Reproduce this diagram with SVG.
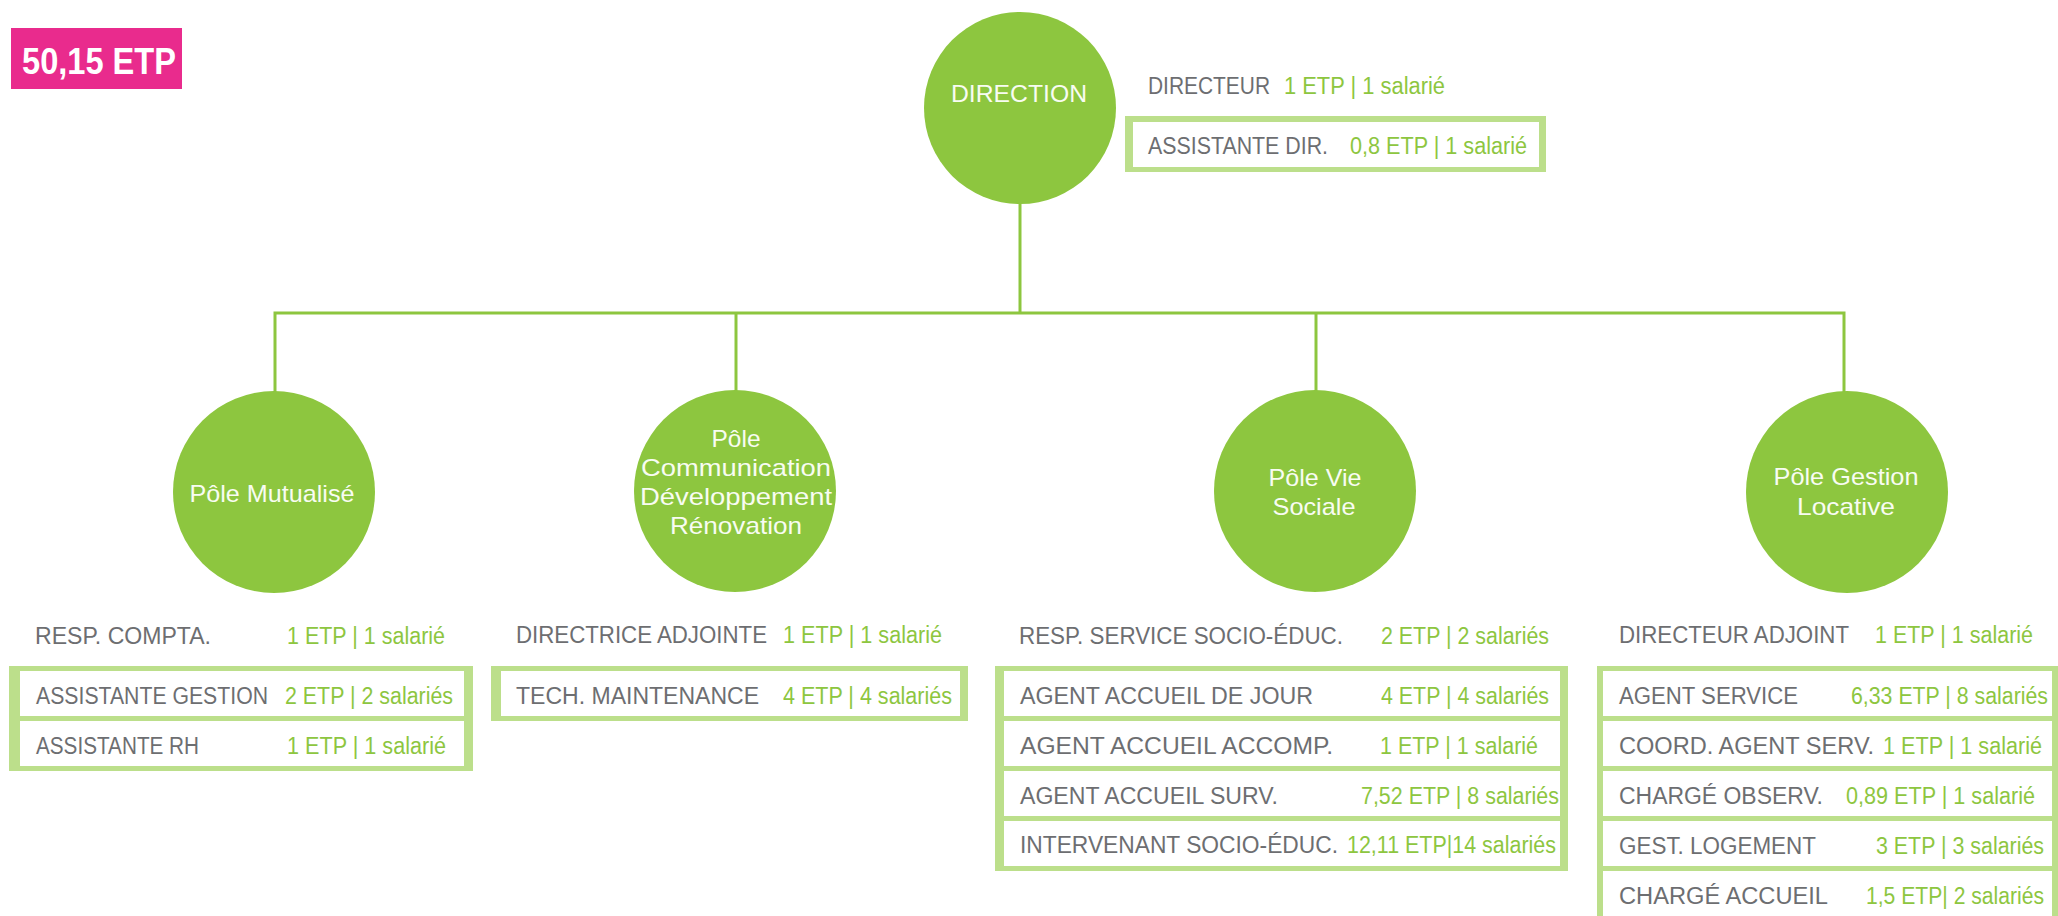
<svg xmlns="http://www.w3.org/2000/svg" width="2058" height="916" viewBox="0 0 2058 916">
<style>
  text { font-family: "Liberation Sans", Arial, sans-serif; }
  .lbl { font-size: 23px; fill: #6d6e71; }
  .val { font-size: 23px; fill: #8dc63f; }
  .circ { fill: #8dc63f; }
  .clbl { font-size: 24px; fill: #f8fcf2; text-anchor: middle; }
  .frame { fill: #bcdf8b; }
  .cell { fill: #ffffff; }
  .conn { stroke: #8dc63f; stroke-width: 3; fill: none; }
</style>
<rect width="2058" height="916" fill="#ffffff"/>

<g id="connectors">
  <line class="conn" x1="1020" y1="200" x2="1020" y2="313"/>
  <polyline class="conn" points="275,392 275,313 1844,313 1844,392"/>
  <line class="conn" x1="736" y1="313" x2="736" y2="392"/>
  <line class="conn" x1="1316" y1="313" x2="1316" y2="392"/>
</g>

<g id="total">
  <rect x="11" y="28" width="171" height="61" fill="#e92b8d"/>
  <text x="22" y="74" font-size="36" font-weight="bold" fill="#ffffff" textLength="154" lengthAdjust="spacingAndGlyphs">50,15 ETP</text>
</g>

<g id="direction">
  <circle class="circ" cx="1020" cy="108" r="96"/>
  <text class="clbl" x="1019" y="102" textLength="136" lengthAdjust="spacingAndGlyphs">DIRECTION</text>
</g>

<g id="direction-staff">
  <text class="lbl" x="1148" y="94" textLength="122" lengthAdjust="spacingAndGlyphs">DIRECTEUR</text>
  <text class="val" x="1284" y="94" textLength="161" lengthAdjust="spacingAndGlyphs">1 ETP | 1 salarié</text>
  <rect class="frame" x="1125" y="116" width="421" height="56"/>
  <rect class="cell" x="1133" y="122" width="406" height="45"/>
  <text class="lbl" x="1148" y="154" textLength="180" lengthAdjust="spacingAndGlyphs">ASSISTANTE DIR.</text>
  <text class="val" x="1350" y="154" textLength="177" lengthAdjust="spacingAndGlyphs">0,8 ETP | 1 salarié</text>
</g>

<g id="pole-mutualise">
  <circle class="circ" cx="274" cy="492" r="101"/>
  <text class="clbl" x="272" y="502" textLength="165" lengthAdjust="spacingAndGlyphs">Pôle Mutualisé</text>
</g>

<g id="pole-mutualise-staff">
  <text class="lbl" x="35" y="644" textLength="176" lengthAdjust="spacingAndGlyphs">RESP. COMPTA.</text>
  <text class="val" x="287" y="644" textLength="158" lengthAdjust="spacingAndGlyphs">1 ETP | 1 salarié</text>
  <rect class="frame" x="9" y="666" width="464" height="105"/>
  <rect class="cell" x="20" y="671" width="444" height="45"/>
  <rect class="cell" x="20" y="721" width="444" height="45"/>
  <text class="lbl" x="36" y="704" textLength="232" lengthAdjust="spacingAndGlyphs">ASSISTANTE GESTION</text>
  <text class="val" x="285" y="704" textLength="168" lengthAdjust="spacingAndGlyphs">2 ETP | 2 salariés</text>
  <text class="lbl" x="36" y="754" textLength="163" lengthAdjust="spacingAndGlyphs">ASSISTANTE RH</text>
  <text class="val" x="287" y="754" textLength="159" lengthAdjust="spacingAndGlyphs">1 ETP | 1 salarié</text>
</g>

<g id="pole-communication">
  <circle class="circ" cx="735" cy="491" r="101"/>
  <text class="clbl" x="736" y="447" textLength="49" lengthAdjust="spacingAndGlyphs">Pôle</text>
  <text class="clbl" x="736" y="476" textLength="190" lengthAdjust="spacingAndGlyphs">Communication</text>
  <text class="clbl" x="736" y="505" textLength="192" lengthAdjust="spacingAndGlyphs">Développement</text>
  <text class="clbl" x="736" y="534" textLength="132" lengthAdjust="spacingAndGlyphs">Rénovation</text>
</g>

<g id="pole-communication-staff">
  <text class="lbl" x="516" y="643" textLength="251" lengthAdjust="spacingAndGlyphs">DIRECTRICE ADJOINTE</text>
  <text class="val" x="783" y="643" textLength="159" lengthAdjust="spacingAndGlyphs">1 ETP | 1 salarié</text>
  <rect class="frame" x="491" y="666" width="477" height="55"/>
  <rect class="cell" x="501" y="671" width="459" height="45"/>
  <text class="lbl" x="516" y="704" textLength="243" lengthAdjust="spacingAndGlyphs">TECH. MAINTENANCE</text>
  <text class="val" x="783" y="704" textLength="169" lengthAdjust="spacingAndGlyphs">4 ETP | 4 salariés</text>
</g>

<g id="pole-vie-sociale">
  <circle class="circ" cx="1315" cy="491" r="101"/>
  <text class="clbl" x="1315" y="486" textLength="93" lengthAdjust="spacingAndGlyphs">Pôle Vie</text>
  <text class="clbl" x="1314" y="515" textLength="83" lengthAdjust="spacingAndGlyphs">Sociale</text>
</g>

<g id="pole-vie-sociale-staff">
  <text class="lbl" x="1019" y="644" textLength="324" lengthAdjust="spacingAndGlyphs">RESP. SERVICE SOCIO-ÉDUC.</text>
  <text class="val" x="1381" y="644" textLength="168" lengthAdjust="spacingAndGlyphs">2 ETP | 2 salariés</text>
  <rect class="frame" x="995" y="666" width="573" height="205"/>
  <rect class="cell" x="1004" y="671" width="556" height="45"/>
  <rect class="cell" x="1004" y="721" width="556" height="45"/>
  <rect class="cell" x="1004" y="771" width="556" height="45"/>
  <rect class="cell" x="1004" y="821" width="556" height="45"/>
  <text class="lbl" x="1020" y="704" textLength="293" lengthAdjust="spacingAndGlyphs">AGENT ACCUEIL DE JOUR</text>
  <text class="val" x="1381" y="704" textLength="168" lengthAdjust="spacingAndGlyphs">4 ETP | 4 salariés</text>
  <text class="lbl" x="1020" y="754" textLength="313" lengthAdjust="spacingAndGlyphs">AGENT ACCUEIL ACCOMP.</text>
  <text class="val" x="1380" y="754" textLength="158" lengthAdjust="spacingAndGlyphs">1 ETP | 1 salarié</text>
  <text class="lbl" x="1020" y="804" textLength="258" lengthAdjust="spacingAndGlyphs">AGENT ACCUEIL SURV.</text>
  <text class="val" x="1361" y="804" textLength="198" lengthAdjust="spacingAndGlyphs">7,52 ETP | 8 salariés</text>
  <text class="lbl" x="1020" y="853" textLength="318" lengthAdjust="spacingAndGlyphs">INTERVENANT SOCIO-ÉDUC.</text>
  <text class="val" x="1347" y="853" textLength="209" lengthAdjust="spacingAndGlyphs">12,11 ETP|14 salariés</text>
</g>

<g id="pole-gestion-locative">
  <circle class="circ" cx="1847" cy="492" r="101"/>
  <text class="clbl" x="1846" y="485" textLength="145" lengthAdjust="spacingAndGlyphs">Pôle Gestion</text>
  <text class="clbl" x="1846" y="515" textLength="98" lengthAdjust="spacingAndGlyphs">Locative</text>
</g>

<g id="pole-gestion-locative-staff">
  <text class="lbl" x="1619" y="643" textLength="230" lengthAdjust="spacingAndGlyphs">DIRECTEUR ADJOINT</text>
  <text class="val" x="1875" y="643" textLength="158" lengthAdjust="spacingAndGlyphs">1 ETP | 1 salarié</text>
  <rect class="frame" x="1597" y="666" width="461" height="260"/>
  <rect class="cell" x="1603" y="671" width="449" height="45"/>
  <rect class="cell" x="1603" y="721" width="449" height="45"/>
  <rect class="cell" x="1603" y="771" width="449" height="45"/>
  <rect class="cell" x="1603" y="821" width="449" height="45"/>
  <rect class="cell" x="1603" y="871" width="449" height="45"/>
  <text class="lbl" x="1619" y="704" textLength="179" lengthAdjust="spacingAndGlyphs">AGENT SERVICE</text>
  <text class="val" x="1851" y="704" textLength="197" lengthAdjust="spacingAndGlyphs">6,33 ETP | 8 salariés</text>
  <text class="lbl" x="1619" y="754" textLength="255" lengthAdjust="spacingAndGlyphs">COORD. AGENT SERV.</text>
  <text class="val" x="1883" y="754" textLength="159" lengthAdjust="spacingAndGlyphs">1 ETP | 1 salarié</text>
  <text class="lbl" x="1619" y="804" textLength="204" lengthAdjust="spacingAndGlyphs">CHARGÉ OBSERV.</text>
  <text class="val" x="1846" y="804" textLength="189" lengthAdjust="spacingAndGlyphs">0,89 ETP | 1 salarié</text>
  <text class="lbl" x="1619" y="854" textLength="197" lengthAdjust="spacingAndGlyphs">GEST. LOGEMENT</text>
  <text class="val" x="1876" y="854" textLength="168" lengthAdjust="spacingAndGlyphs">3 ETP | 3 salariés</text>
  <text class="lbl" x="1619" y="904" textLength="209" lengthAdjust="spacingAndGlyphs">CHARGÉ ACCUEIL</text>
  <text class="val" x="1866" y="904" textLength="178" lengthAdjust="spacingAndGlyphs">1,5 ETP| 2 salariés</text>
</g>
</svg>
